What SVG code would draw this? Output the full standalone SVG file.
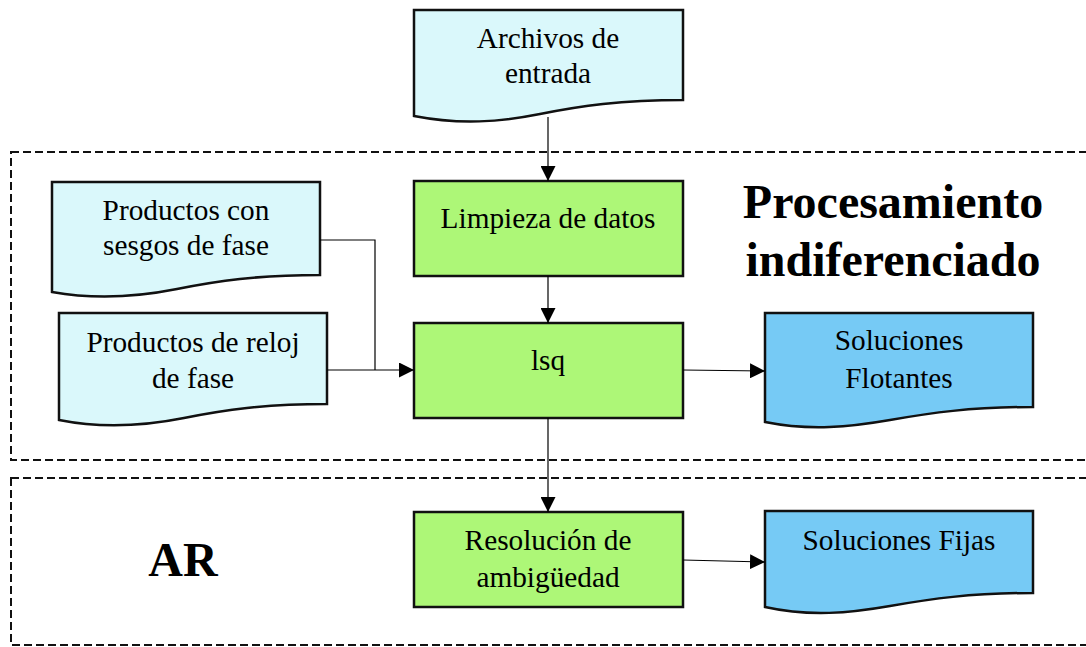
<svg xmlns="http://www.w3.org/2000/svg" width="1086" height="647" viewBox="0 0 1086 647">
<defs>
<marker id="arr" markerUnits="userSpaceOnUse" markerWidth="15" markerHeight="15" viewBox="0 0 15 15" refX="15" refY="7.5" orient="auto">
<path d="M0,0 L15,7.5 L0,15 Z" fill="#000"/>
</marker>
</defs>
<style>
.t{font-family:"Liberation Serif","Times New Roman",serif;font-size:29.3px;fill:#000;text-anchor:middle}
.b{font-family:"Liberation Serif","Times New Roman",serif;font-size:48px;font-weight:bold;fill:#000;text-anchor:middle}
.doc{stroke:#111;stroke-width:2.5;stroke-linejoin:miter}
.lc{fill:#DAF8FB}
.bl{fill:#76CAF5}
.pr{fill:#ADF777;stroke:#111;stroke-width:2.5}
.grp{fill:none;stroke:#111;stroke-width:2;stroke-dasharray:8,4}
.c{fill:none;stroke:#000;stroke-width:1.2}
</style>
<rect class="grp" x="11" y="152" width="1085" height="308"/>
<rect class="grp" x="11" y="478" width="1085" height="167"/>
<text class="b" x="893" y="218">Procesamiento</text>
<text class="b" x="893" y="276">indiferenciado</text>
<text class="b" x="183" y="576">AR</text>

<g id="archivos">
<path class="doc lc" d="M414,10 H683 V100 C620,100 580,106 540,114 C500,122 460,125 414,116 Z"/>
<text class="t" x="548" y="48">Archivos de</text>
<text class="t" x="548" y="83">entrada</text>
</g>
<g id="sesgos">
<path class="doc lc" d="M52,182 H320 V275 C257,275 217,281 177,289 C137,297 97,300 52,292 Z"/>
<text class="t" x="186" y="220">Productos con</text>
<text class="t" x="186" y="255">sesgos de fase</text>
</g>
<g id="reloj">
<path class="doc lc" d="M59,313 H327 V404 C264,404 224,410 184,418 C144,426 104,429 59,420 Z"/>
<text class="t" x="193" y="352">Productos de reloj</text>
<text class="t" x="193" y="388">de fase</text>
</g>
<g id="limpieza">
<rect class="pr" x="414" y="181" width="269" height="95"/>
<text class="t" x="548" y="228">Limpieza de datos</text>
</g>
<g id="lsq">
<rect class="pr" x="414" y="323" width="269" height="95"/>
<text class="t" x="548" y="370">lsq</text>
</g>
<g id="resolucion">
<rect class="pr" x="414" y="512" width="269" height="95"/>
<text class="t" x="548" y="550">Resolución de</text>
<text class="t" x="548" y="587">ambigüedad</text>
</g>
<g id="flotantes">
<path class="doc bl" d="M765,313 H1033 V407 C970,407 930,413 890,420 C850,427 810,431 765,422 Z"/>
<text class="t" x="899" y="350">Soluciones</text>
<text class="t" x="899" y="388">Flotantes</text>
</g>
<g id="fijas">
<path class="doc bl" d="M765,511 H1033 V593 C970,593 930,599 890,606 C850,613 810,617 765,607 Z"/>
<text class="t" x="899" y="550">Soluciones Fijas</text>
</g>
<g id="connectors">
<path class="c" d="M548,117 V181" marker-end="url(#arr)"/>
<path class="c" d="M548,276 V323" marker-end="url(#arr)"/>
<path class="c" d="M548,418 V512" marker-end="url(#arr)"/>
<path class="c" d="M320,240 H375 V370"/>
<path class="c" d="M327,370 H414" marker-end="url(#arr)"/>
<path class="c" d="M683,370 L765,371" marker-end="url(#arr)"/>
<path class="c" d="M683,560 L765,562" marker-end="url(#arr)"/>
</g>
</svg>
